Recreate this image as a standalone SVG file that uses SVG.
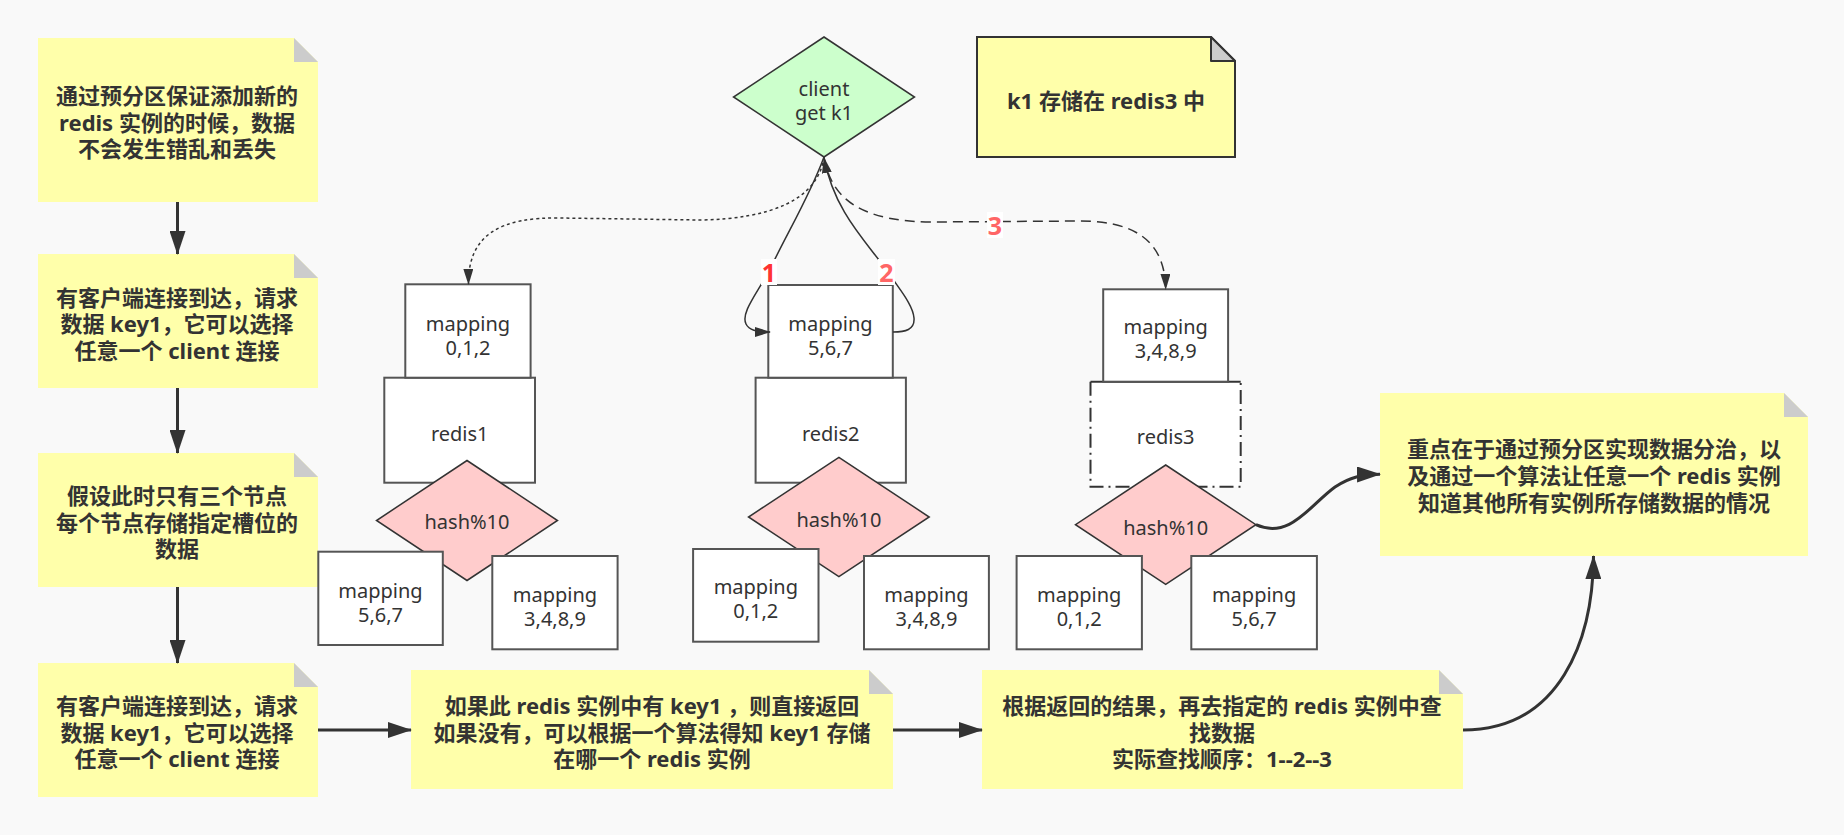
<svg xmlns="http://www.w3.org/2000/svg" width="1844" height="835" viewBox="0 0 1844 835">
<style>
.note{fill:#ffffaa;stroke:none}
.fold{fill:#cccccc;stroke:none}
.nt{font-family:"Noto Sans","Noto Sans CJK SC",sans-serif;font-weight:bold;font-size:22px;fill:#333;text-anchor:middle;dominant-baseline:central}
.box{fill:#ffffff;stroke:#555;stroke-width:2}
.dia{stroke:#333;stroke-width:1.5}
.bt{font-family:"Noto Sans","Noto Sans CJK SC",sans-serif;font-size:20px;fill:#333;text-anchor:middle;dominant-baseline:central}
.thick{fill:none;stroke:#333;stroke-width:3}
.thin{fill:none;stroke:#333;stroke-width:1.5}
.lbl{font-family:"Noto Sans","Liberation Sans",sans-serif;font-weight:bold;font-size:25px;text-anchor:middle;dominant-baseline:central}
</style>
<defs>
<marker id="ab" viewBox="0 0 24 16" markerUnits="userSpaceOnUse" markerWidth="24" markerHeight="16" refX="23" refY="8" orient="auto"><path d="M0,0 L24,8 L0,16 Z" fill="#333"/></marker>
<marker id="as" viewBox="0 0 16 10" markerUnits="userSpaceOnUse" markerWidth="16" markerHeight="10" refX="15" refY="5" orient="auto"><path d="M0,0 L16,5 L0,10 Z" fill="#333"/></marker>
</defs>
<rect x="0" y="0" width="1844" height="835" fill="#f9f9f9"/>

<g id="note1">
<path class="note" d="M38,38 H294 L318,62 V202 H38 Z"/><path class="fold" d="M294,38 V62 H318 Z"/>
<text class="nt"><tspan x="177" y="95">通过预分区保证添加新的</tspan><tspan x="177" y="121.7">redis 实例的时候，数据</tspan><tspan x="177" y="148.3">不会发生错乱和丢失</tspan></text>
</g>
<g id="note2">
<path class="note" d="M38,254 H294 L318,278 V388 H38 Z"/><path class="fold" d="M294,254 V278 H318 Z"/>
<text class="nt"><tspan x="177" y="296.7">有客户端连接到达，请求</tspan><tspan x="177" y="323.3">数据 key1，它可以选择</tspan><tspan x="177" y="350">任意一个 client 连接</tspan></text>
</g>
<g id="note3">
<path class="note" d="M38,453 H294 L318,477 V587 H38 Z"/><path class="fold" d="M294,453 V477 H318 Z"/>
<text class="nt"><tspan x="177" y="495">假设此时只有三个节点</tspan><tspan x="177" y="521.7">每个节点存储指定槽位的</tspan><tspan x="177" y="548.3">数据</tspan></text>
</g>
<g id="note4">
<path class="note" d="M38,663 H294 L318,687 V797 H38 Z"/><path class="fold" d="M294,663 V687 H318 Z"/>
<text class="nt"><tspan x="177" y="705">有客户端连接到达，请求</tspan><tspan x="177" y="731.7">数据 key1，它可以选择</tspan><tspan x="177" y="758.3">任意一个 client 连接</tspan></text>
</g>
<g id="note5">
<path class="note" d="M411,670 H869 L893,694 V789 H411 Z"/><path class="fold" d="M869,670 V694 H893 Z"/>
<text class="nt"><tspan x="652" y="705">如果此 redis 实例中有 key1 ，则直接返回</tspan><tspan x="652" y="731.7">如果没有，可以根据一个算法得知 key1 存储</tspan><tspan x="652" y="758.3">在哪一个 redis 实例</tspan></text>
</g>
<g id="note6">
<path class="note" d="M982,670 H1439 L1463,694 V789 H982 Z"/><path class="fold" d="M1439,670 V694 H1463 Z"/>
<text class="nt"><tspan x="1222" y="705">根据返回的结果，再去指定的 redis 实例中查</tspan><tspan x="1222" y="731.7">找数据</tspan><tspan x="1222" y="758.3">实际查找顺序：1--2--3</tspan></text>
</g>
<g id="note7">
<path class="note" d="M1380,393 H1784 L1808,417 V556 H1380 Z"/><path class="fold" d="M1784,393 V417 H1808 Z"/>
<text class="nt"><tspan x="1594" y="448.3">重点在于通过预分区实现数据分治，以</tspan><tspan x="1594" y="475">及通过一个算法让任意一个 redis 实例</tspan><tspan x="1594" y="501.7">知道其他所有实例所存储数据的情况</tspan></text>
</g>
<g id="note-k1">
<path d="M977,37 H1211 L1235,61 V157 H977 Z" fill="#ffffaa" stroke="#333" stroke-width="2"/>
<path d="M1211,37 V61 H1235 Z" fill="#cccccc" stroke="#333" stroke-width="2" stroke-linejoin="round"/>
<text class="nt" x="1106" y="100">k1 存储在 redis3 中</text>
</g>

<g id="client">
<path class="dia" fill="#ccffcc" d="M824,37 L914.5,97 L824,157 L733.5,97 Z"/>
<text class="bt"><tspan x="824" y="88">client</tspan><tspan x="824" y="112">get k1</tspan></text>
</g>

<g id="redis1">
<rect class="box" x="384.3" y="377.7" width="150.7" height="105"/>
<text class="bt" x="459.7" y="433">redis1</text>
</g>
<g id="r1-map-top">
<rect class="box" x="405.3" y="284.3" width="125.3" height="93.4"/>
<text class="bt"><tspan x="468" y="322.7">mapping</tspan><tspan x="468" y="346.7">0,1,2</tspan></text>
</g>
<g id="r1-hash">
<path class="dia" fill="#ffcccc" d="M467,460.5 L557.5,520.5 L467,580.5 L376.5,520.5 Z"/>
<text class="bt" x="467" y="521.7">hash%10</text>
</g>
<g id="r1-map-left">
<rect class="box" x="318.3" y="551.7" width="124.5" height="93.3"/>
<text class="bt"><tspan x="380.5" y="589.7">mapping</tspan><tspan x="380.5" y="613.7">5,6,7</tspan></text>
</g>
<g id="r1-map-right">
<rect class="box" x="492.3" y="556" width="125.3" height="93.3"/>
<text class="bt"><tspan x="555" y="593.7">mapping</tspan><tspan x="555" y="617.7">3,4,8,9</tspan></text>
</g>

<g id="redis2">
<rect class="box" x="755.6" y="377.7" width="150.3" height="105"/>
<text class="bt" x="830.7" y="433">redis2</text>
</g>
<g id="r2-map-top">
<rect class="box" x="768.3" y="285" width="124.5" height="92.7"/>
<text class="bt"><tspan x="830.5" y="322.7">mapping</tspan><tspan x="830.5" y="346.7">5,6,7</tspan></text>
</g>
<g id="r2-hash">
<path class="dia" fill="#ffcccc" d="M838.9,457.3 L929.2,517 L838.9,576.7 L748.5,517 Z"/>
<text class="bt" x="838.9" y="519.3">hash%10</text>
</g>
<g id="r2-map-left">
<rect class="box" x="693.1" y="549" width="125.4" height="92.7"/>
<text class="bt"><tspan x="755.8" y="586.3">mapping</tspan><tspan x="755.8" y="610.3">0,1,2</tspan></text>
</g>
<g id="r2-map-right">
<rect class="box" x="864" y="556" width="124.9" height="93.3"/>
<text class="bt"><tspan x="926.5" y="593.7">mapping</tspan><tspan x="926.5" y="617.7">3,4,8,9</tspan></text>
</g>

<g id="redis3">
<rect x="1090.5" y="381.7" width="150.2" height="105" fill="#ffffff" stroke="none"/>
<path d="M1090.5,381.7 V486.7 H1240.7 V381.7" fill="none" stroke="#333" stroke-width="2" stroke-dasharray="14 5 2 5"/>
<path d="M1090.5,381.7 H1240.7" fill="none" stroke="#333" stroke-width="2"/>
<text class="bt" x="1165.6" y="436.7">redis3</text>
</g>
<g id="r3-map-top">
<rect class="box" x="1103.2" y="289.3" width="124.9" height="92.4"/>
<text class="bt"><tspan x="1165.7" y="326.3">mapping</tspan><tspan x="1165.7" y="350.3">3,4,8,9</tspan></text>
</g>
<g id="r3-hash">
<path class="dia" fill="#ffcccc" d="M1165.7,465 L1255.9,524.7 L1165.7,584.3 L1075.5,524.7 Z"/>
<text class="bt" x="1165.7" y="527.3">hash%10</text>
</g>
<g id="r3-map-left">
<rect class="box" x="1016.6" y="556" width="125.3" height="93.3"/>
<text class="bt"><tspan x="1079.2" y="593.7">mapping</tspan><tspan x="1079.2" y="617.7">0,1,2</tspan></text>
</g>
<g id="r3-map-right">
<rect class="box" x="1191.3" y="556" width="125.6" height="93.3"/>
<text class="bt"><tspan x="1254.1" y="593.7">mapping</tspan><tspan x="1254.1" y="617.7">5,6,7</tspan></text>
</g>

<g id="connectors">
<path class="thick" d="M177.5,202 V254" marker-end="url(#ab)"/>
<path class="thick" d="M177.5,388 V453" marker-end="url(#ab)"/>
<path class="thick" d="M177.5,587 V663" marker-end="url(#ab)"/>
<path class="thick" d="M318,730 H411" marker-end="url(#ab)"/>
<path class="thick" d="M893,730 H982" marker-end="url(#ab)"/>
<path class="thick" d="M1255.9,524.7 C1290,540 1310,505 1335,487 C1350,477 1362,474.5 1380,474.3" marker-end="url(#ab)"/>
<path class="thick" d="M1463,730 C1560,730 1593,640 1593.5,556" marker-end="url(#ab)"/>
<path class="thin" stroke-dasharray="3 3" d="M824,157 C818,200 770,219 700,220 L560,218 C500,217 468,235 468.5,284" marker-end="url(#as)"/>
<path class="thin" d="M824,157 C810,195 790,228 772,265 C760,290 740,312 746,324 C749,330 756,332 770,332" marker-end="url(#as)"/>
<path class="thin" d="M893,332 C905,332 915,330 914,318 C913,305 900,290 890,275 C870,245 835,215 824,158" marker-end="url(#as)"/>
<path class="thin" stroke-dasharray="10 6" d="M824,157 C832,205 870,221 930,222 L1080,221 C1140,221 1165,245 1165.7,289" marker-end="url(#as)"/>
<rect x="761" y="259" width="16" height="26" fill="#ffffff"/>
<text class="lbl" x="769" y="272" fill="#ff3333">1</text>
<rect x="878" y="259" width="17" height="26" fill="#ffffff"/>
<text class="lbl" x="886.5" y="272" fill="#ff6666">2</text>
<rect x="987" y="212" width="16" height="26" fill="#ffffff"/>
<text class="lbl" x="995" y="225" fill="#ff6666">3</text>
</g>
</svg>
